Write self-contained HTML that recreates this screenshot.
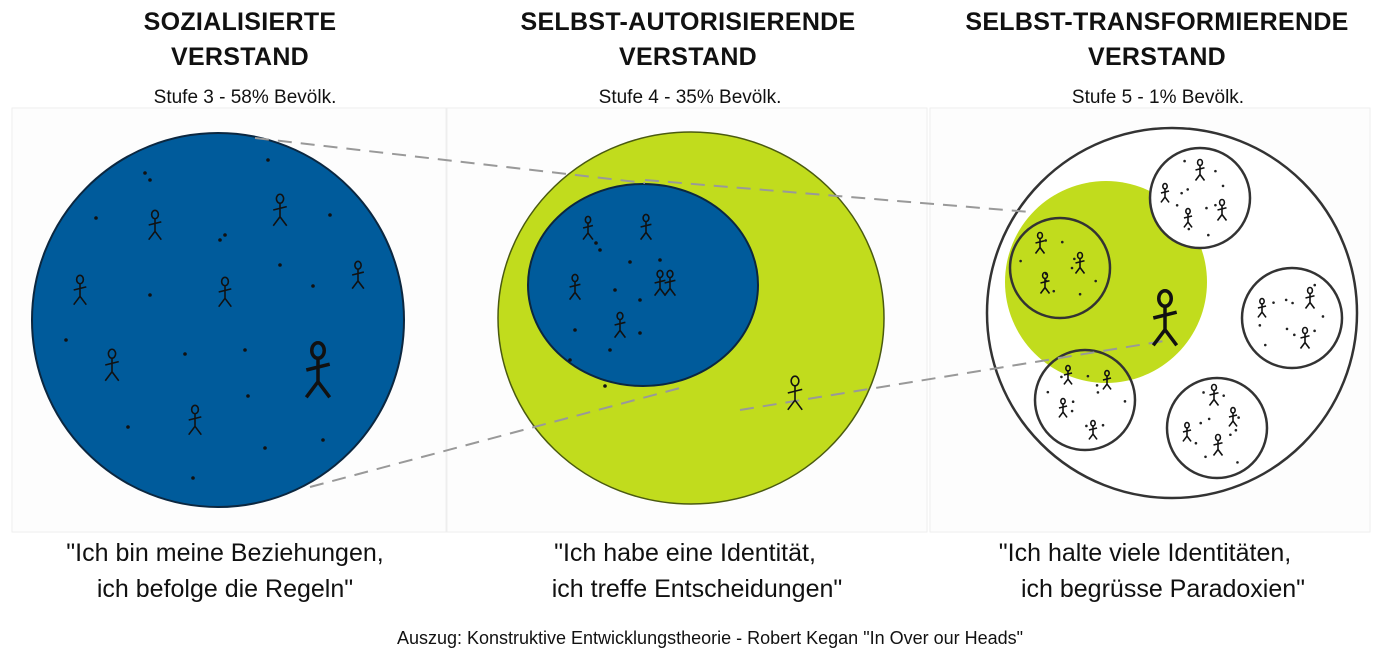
<!DOCTYPE html>
<html><head><meta charset="utf-8"><style>
html,body{margin:0;padding:0;background:#fff;width:1400px;height:669px;overflow:hidden}
svg{display:block}
text{font-family:"Liberation Sans",sans-serif;fill:#111}
.t{font-size:25px;font-weight:bold;letter-spacing:0.3px}
.s{font-size:19px}
.q{font-size:25px}
.f{font-size:18px}
</style></head><body>
<svg id="scene" width="1400" height="669" viewBox="0 0 1400 669">
<rect x="12" y="108" width="434" height="424" fill="#fdfdfd" stroke="#eee"/>
<rect x="447" y="108" width="480" height="424" fill="#fdfdfd" stroke="#eee"/>
<rect x="930" y="108" width="440" height="424" fill="#fdfdfd" stroke="#eee"/>

<ellipse cx="218" cy="320" rx="186" ry="187" fill="#005b9b" stroke="#0b2740" stroke-width="2"/>
<ellipse cx="691" cy="318" rx="193" ry="186" fill="#c1dc1d" stroke="#4a5a10" stroke-width="1.5"/>
<ellipse cx="643" cy="285" rx="115" ry="101" fill="#005b9b" stroke="#0b2740" stroke-width="2"/>
<circle cx="1172" cy="313" r="185" fill="#fff" stroke="#333" stroke-width="2.5"/>
<circle cx="1106" cy="282" r="101" fill="#c1dc1d"/>
<g id="small"></g>

<g stroke="#999" stroke-width="2" stroke-dasharray="14 9" fill="none">
<line x1="255" y1="138" x2="645" y2="183"/>
<line x1="310" y1="487" x2="680" y2="388"/>
<line x1="645" y1="180" x2="1030" y2="212"/>
<line x1="740" y1="410" x2="1170" y2="340"/>
</g>
<g id="figs"></g>
<g id="dots"></g>

<text class="t" x="240" y="30" text-anchor="middle">SOZIALISIERTE</text>
<text class="t" x="240" y="65" text-anchor="middle">VERSTAND</text>
<text class="s" x="245" y="103" text-anchor="middle">Stufe 3 - 58% Bevölk.</text>
<text class="t" x="688" y="30" text-anchor="middle">SELBST-AUTORISIERENDE</text>
<text class="t" x="688" y="65" text-anchor="middle">VERSTAND</text>
<text class="s" x="690" y="103" text-anchor="middle">Stufe 4 - 35% Bevölk.</text>
<text class="t" x="1157" y="30" text-anchor="middle">SELBST-TRANSFORMIERENDE</text>
<text class="t" x="1157" y="65" text-anchor="middle">VERSTAND</text>
<text class="s" x="1158" y="103" text-anchor="middle">Stufe 5 - 1% Bevölk.</text>

<text class="q" x="225" y="561" text-anchor="middle">"Ich bin meine Beziehungen,</text>
<text class="q" x="225" y="597" text-anchor="middle">ich befolge die Regeln"</text>
<text class="q" x="685" y="561" text-anchor="middle">"Ich habe eine Identität,</text>
<text class="q" x="697" y="597" text-anchor="middle">ich treffe Entscheidungen"</text>
<text class="q" x="1145" y="561" text-anchor="middle">"Ich halte viele Identitäten,</text>
<text class="q" x="1163" y="597" text-anchor="middle">ich begrüsse Paradoxien"</text>
<text class="f" x="710" y="644" text-anchor="middle">Auszug: Konstruktive Entwicklungstheorie - Robert Kegan "In Over our Heads"</text>
</svg>
<script>
const NS="http://www.w3.org/2000/svg";
const smallCx=[1060,1200,1292,1085,1217];
const smallCy=[268,198,318,400,428];
const figX=[155,280,80,225,358,112,195,646,588,660,575,670,620,1040,1080,1045,1200,1165,1222,1188,1310,1262,1305,1068,1107,1063,1093,1214,1187,1233,1218,795];
const figY=[225,210,290,292,275,365,420,227,228,283,287,283,325,243,263,283,170,193,210,218,298,308,338,375,380,408,430,395,432,417,445,393];
const figS=[0.7,0.75,0.7,0.7,0.65,0.75,0.7,0.6,0.55,0.6,0.6,0.6,0.6,0.5,0.5,0.5,0.5,0.45,0.5,0.45,0.5,0.45,0.5,0.45,0.45,0.45,0.45,0.5,0.45,0.45,0.5,0.8];
const bigX=[318,1165];
const bigY=[370,318];
const dotX=[150,268,96,220,330,225,150,280,313,66,185,245,128,323,265,193,145,248,596,615,600,630,640,575,610,570,605,640,660];
const dotY=[180,160,218,240,215,235,295,265,286,340,354,350,427,440,448,478,173,396,243,290,250,262,300,330,350,360,386,333,260];
function fig(x,y,s,w,g){
  const p=document.createElementNS(NS,"path");
  
  
  const h=6*s,b=18*s,a=9*s,l=12*s;
  p.setAttribute("d",`M${x} ${y-b/2}L${x} ${y+b/2}M${x-a} ${y}L${x+a} ${y-a/2}M${x} ${y+b/2}L${x-a} ${y+b/2+l}M${x} ${y+b/2}L${x+a} ${y+b/2+l}`);
  p.setAttribute("stroke","#111");p.setAttribute("stroke-width",w);p.setAttribute("fill","none");
  g.appendChild(p);
  const c=document.createElementNS(NS,"ellipse");
  
  
  c.setAttribute("cx",x);c.setAttribute("cy",y-b/2-h);c.setAttribute("rx",h*0.8);c.setAttribute("ry",h);
  c.setAttribute("stroke","#111");c.setAttribute("stroke-width",w);c.setAttribute("fill","none");
  g.appendChild(c);
}
const sg=document.getElementById("small");
for(let i=0;i<smallCx.length;i++){
  const c=document.createElementNS(NS,"circle");
  
  
  c.setAttribute("cx",smallCx[i]);c.setAttribute("cy",smallCy[i]);c.setAttribute("r",50);
  c.setAttribute("fill",i==0?"none":"#fff");c.setAttribute("fill-opacity",i==3?"0":"1");
  c.setAttribute("stroke","#333");c.setAttribute("stroke-width",2.5);
  sg.appendChild(c);
  for(let k=0;k<10;k++){
    const d=document.createElementNS(NS,"circle");
    
    
    const ang=k*2.4+i, rr=12+(k*7)%30;
    d.setAttribute("cx",smallCx[i]+rr*Math.cos(ang));d.setAttribute("cy",smallCy[i]+rr*Math.sin(ang));
    d.setAttribute("r",1.3);d.setAttribute("fill","#222");sg.appendChild(d);
  }
}
const fg=document.getElementById("figs");
for(let i=0;i<figX.length;i++) fig(figX[i],figY[i],figS[i],1.6,fg);
for(let i=0;i<bigX.length;i++) fig(bigX[i],bigY[i],1.3,3.5,fg);
const dg=document.getElementById("dots");
for(let i=0;i<dotX.length;i++){
  const d=document.createElementNS(NS,"circle");
  
  
  d.setAttribute("cx",dotX[i]);d.setAttribute("cy",dotY[i]);d.setAttribute("r",1.8);d.setAttribute("fill","#111");
  dg.appendChild(d);
}
</script>
</body></html>
